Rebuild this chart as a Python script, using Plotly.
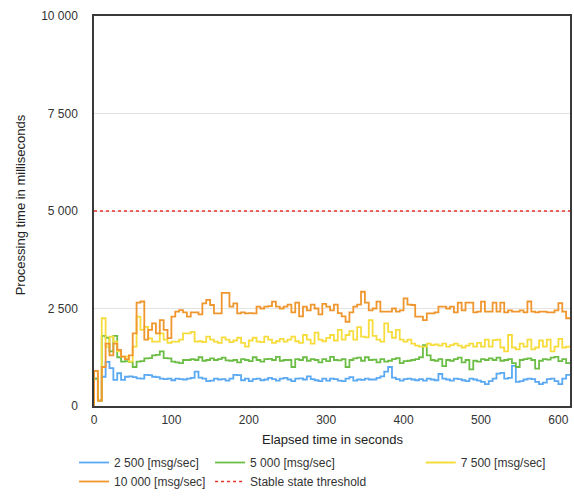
import plotly.graph_objects as go

# Elapsed time in seconds (sample boundaries every 5 s)
elapsed = list(range(0, 620, 5))

# Processing time in milliseconds; first value is the starting level (0)
rate_2500 = [0,
    700, 140, 750, 1130, 970, 670, 840, 670, 750, 760,
    740, 710, 700, 800, 790, 750, 740, 700, 690, 700,
    660, 700, 690, 680, 700, 720, 880, 730, 700, 640,
    650, 700, 680, 690, 650, 700, 800, 790, 660, 700,
    640, 690, 700, 660, 680, 720, 690, 650, 700, 720,
    680, 640, 700, 710, 680, 760, 690, 660, 640, 700,
    650, 700, 690, 650, 640, 700, 740, 650, 680, 670,
    700, 680, 680, 720, 760, 880, 1000, 730, 690, 650,
    690, 700, 680, 660, 690, 650, 700, 680, 660, 820,
    700, 680, 650, 700, 690, 660, 640, 700, 680, 650,
    620, 560, 640, 700, 830, 850, 700, 720, 1030, 620,
    640, 680, 700, 690, 620, 560, 600, 690, 700, 640,
    560, 700, 800]

rate_5000 = [0,
    700, 140, 1800, 1750, 1400, 1800, 1250, 1140, 1150, 1130,
    1000, 1140, 1150, 1220, 1230, 1300, 1310, 1400, 1230, 1220,
    1140, 1120, 1100, 1180, 1180, 1200, 1180, 1250, 1160, 1180,
    1220, 1180, 1200, 1240, 1170, 1160, 1180, 1120, 1200, 1180,
    1150, 1250, 1180, 1140, 1200, 1210, 1180, 1260, 1160, 1180,
    1180, 1000, 1200, 1180, 1250, 1160, 1200, 1180, 1120, 1200,
    1150, 1260, 1180, 1170, 1200, 1000, 1180, 1220, 1240, 1160,
    1250, 1180, 1190, 1120, 1200, 1140, 1160, 1200, 1230, 1100,
    1150, 1160, 1180, 1200, 1250, 1560, 1300, 1180, 1160, 1200,
    1020, 1180, 1160, 1200, 1240, 1120, 1180, 940, 1160, 1140,
    1200, 1180, 1220, 1180, 1240, 1160, 1180, 1200, 1100, 1000,
    1180, 1200, 1220, 1180, 960, 1160, 1200, 1190, 1240, 1260,
    1150, 1200, 1100]

rate_7500 = [0,
    900, 140, 2250, 1520, 1780, 1650, 1400, 1265, 1265, 1140,
    1520, 2290, 1950, 2030, 1735, 1650, 1650, 1860, 1700, 1620,
    1650, 1650, 1700, 1860, 1860, 1900, 1650, 1660, 1640, 1780,
    1700, 1650, 1620, 1760, 1700, 1640, 1680, 1750, 1620, 1520,
    1680, 1750, 1650, 1640, 1780, 1700, 1620, 1660, 1720, 1650,
    1700, 1780, 1660, 1620, 1820, 1700, 1600, 1880, 1700, 1660,
    1740, 1820, 1680, 1950, 1700, 1820, 1920, 1700, 2020, 1780,
    1760, 2200, 1800, 1700, 1650, 2120, 1900, 1750, 1950, 1700,
    1650, 1700, 1600, 1550, 1520, 1520, 1600, 1560, 1580, 1550,
    1600, 1520, 1560, 1600, 1550, 1500, 1550, 1600, 1520, 1620,
    1520, 1700, 1520, 1690, 1700, 1500, 1400, 1820, 1500, 1450,
    1600, 1520, 1700, 1450, 1500, 1680, 1520, 1700, 1400, 1520,
    1720, 1500, 1520]

rate_10000 = [0,
    900, 140, 1000, 1600, 1300, 1600, 1440, 1265, 1200, 1300,
    1860, 2650, 2680, 1700, 1950, 2120, 1860, 2200, 1950, 1740,
    2290, 2420, 2460, 2400, 2290, 2400, 2400, 2350, 2633, 2720,
    2590, 2376, 2376, 2900, 2900, 2550, 2633, 2376, 2400, 2376,
    2380, 2376, 2547, 2500, 2547, 2560, 2676, 2550, 2500, 2547,
    2600, 2400, 2650, 2300, 2550, 2450, 2600, 2500, 2350, 2620,
    2550, 2450, 2600, 2380, 2300, 2160, 2400, 2550, 2600, 2930,
    2650, 2450, 2500, 2676, 2420, 2420, 2420, 2500, 2420, 2450,
    2760, 2600, 2590, 2290, 2290, 2200, 2376, 2376, 2400, 2550,
    2547, 2500, 2550, 2400, 2650, 2450, 2650, 2650, 2400, 2420,
    2676, 2420, 2420, 2650, 2420, 2650, 2400, 2450, 2420, 2420,
    2450, 2400, 2680, 2420, 2400, 2420, 2420, 2400, 2400, 2450,
    2640, 2420, 2250]

threshold = 5000

series_names = ["2 500 [msg/sec]", "5 000 [msg/sec]", "7 500 [msg/sec]", "10 000 [msg/sec]"]
series_values = [rate_2500, rate_5000, rate_7500, rate_10000]
series_colors = ["#5aa9f2", "#6cbd45", "#f6dc3c", "#f0962f"]
series_legends = ["legend", "legend2", "legend3", "legend"]

y_ticks = [0, 2500, 5000, 7500, 10000]
y_tick_labels = ["0", "2 500", "5 000", "7 500", "10 000"]
x_ticks = [0, 100, 200, 300, 400, 500, 600]
x_tick_labels = ["0", "100", "200", "300", "400", "500", "600"]

x_title = "Elapsed time in seconds"
y_title = "Processing time in milliseconds"

FONT = "Liberation Sans, Arial, sans-serif"

fig = go.Figure()
for name, vals, col, lg in zip(series_names, series_values, series_colors, series_legends):
    fig.add_trace(go.Scatter(
        x=elapsed, y=vals, mode="lines", name=name,
        line=dict(color=col, width=1.8, shape="vh"),
        legend=lg,
    ))

fig.add_trace(go.Scatter(
    x=[elapsed[0], elapsed[-1]], y=[threshold, threshold], mode="lines",
    name="Stable state threshold",
    line=dict(color="#e8312b", width=1.4, dash="3px,3px"),
    legend="legend2",
))

legend_common = dict(
    orientation="v", xref="container", yref="container",
    yanchor="top", xanchor="left",
    font=dict(family=FONT, size=12, color="#333"),
    bgcolor="rgba(0,0,0,0)", itemwidth=30, tracegroupgap=0,
)

fig.update_layout(
    width=574, height=500,
    margin=dict(l=94, r=4, t=16, b=94, autoexpand=False),
    paper_bgcolor="white", plot_bgcolor="white",
    font=dict(family=FONT, size=12, color="#333"),
    showlegend=True,
    legend=dict(x=0.129, y=0.104, **legend_common),
    legend2=dict(x=0.366, y=0.104, **legend_common),
    legend3=dict(x=0.733, y=0.104, **legend_common),
    xaxis=dict(
        range=[0, 615], tickvals=x_ticks, ticktext=x_tick_labels,
        showgrid=False, zeroline=False, automargin=False,
        showline=True, mirror=True, linecolor="#3a3a3a", linewidth=1.5,
        ticks="outside", ticklen=2, tickcolor="rgba(0,0,0,0)",
        tickfont=dict(size=12, color="#333"),
    ),
    yaxis=dict(
        range=[0, 10000], tickvals=y_ticks, ticktext=y_tick_labels,
        showgrid=True, gridcolor="#e3e3e3", automargin=False,
        gridwidth=1, zeroline=False,
        showline=True, mirror=True, linecolor="#3a3a3a", linewidth=1.5,
        ticks="outside", ticklen=12, tickcolor="rgba(0,0,0,0)",
        tickfont=dict(size=12, color="#333"),
    ),
    annotations=[
        dict(text=x_title, xref="paper", yref="paper", x=0.5, y=-0.087,
             showarrow=False, xanchor="center", yanchor="middle",
             font=dict(family=FONT, size=13, color="#222")),
        dict(text=y_title, xref="paper", yref="paper", x=-0.155, y=0.515,
             showarrow=False, xanchor="center", yanchor="middle", textangle=-90,
             font=dict(family=FONT, size=13, color="#222")),
    ],
)

fig.write_html("out.html")
